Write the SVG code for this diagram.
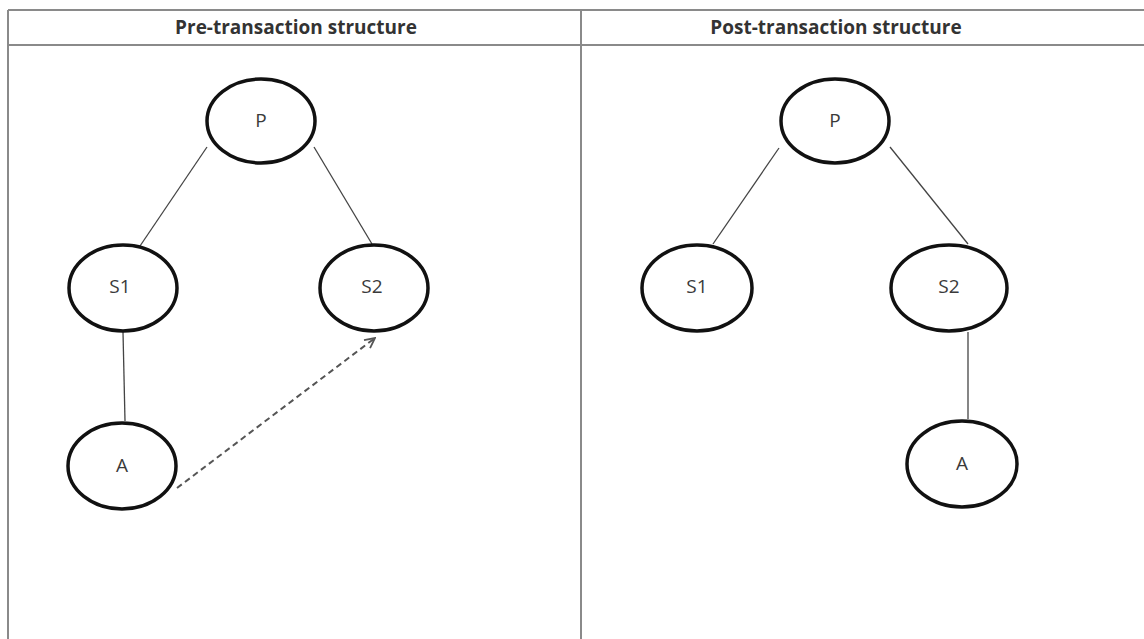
<svg xmlns="http://www.w3.org/2000/svg" width="1144" height="639" viewBox="0 0 1144 639">
<style>
.grid{stroke:#8a8a8a;stroke-width:2;fill:none}
.hdr{font-family:"Open Sans","Liberation Sans",sans-serif;font-weight:bold;font-size:19px;fill:#333;text-anchor:middle}
.node ellipse{fill:#fff;stroke:#111;stroke-width:3.5}
.lbl{font-family:"Open Sans","Liberation Sans",sans-serif;font-size:19px;fill:#3a3a3a;text-anchor:middle}
.edge{stroke:#444;stroke-width:1.3;fill:none}
.dash{stroke:#555;stroke-width:2;stroke-dasharray:6 4;fill:none}
</style>
<defs>
<marker id="open" viewBox="0 0 12 12" refX="11" refY="6" markerWidth="12" markerHeight="12" markerUnits="userSpaceOnUse" orient="auto">
<path d="M1,1 L11,6 L1,11" fill="none" stroke="#555" stroke-width="1.8"/>
</marker>
</defs>
<rect width="1144" height="639" fill="#fff"/>
<g id="table">
<line class="grid" x1="8" y1="10" x2="1144" y2="10"/>
<line class="grid" x1="8" y1="45" x2="1144" y2="45"/>
<line class="grid" x1="8" y1="10" x2="8" y2="639"/>
<line class="grid" x1="581" y1="10" x2="581" y2="639"/>
<text class="hdr" x="296" y="34">Pre-transaction structure</text>
<text class="hdr" x="836" y="34">Post-transaction structure</text>
</g>
<g id="connectors">
<line class="edge" x1="207" y1="147" x2="140" y2="246"/>
<line class="edge" x1="314" y1="147" x2="372" y2="244"/>
<line class="edge" x1="123" y1="332" x2="125" y2="421"/>
<path class="dash" d="M177,488 L375,338" marker-end="url(#open)"/>
<line class="edge" x1="779" y1="148" x2="713" y2="244"/>
<line class="edge" x1="890" y1="147" x2="968" y2="244"/>
<line class="edge" x1="968" y1="332" x2="968" y2="419"/>
</g>
<g id="L-P" class="node"><ellipse cx="261" cy="121" rx="54" ry="42"/><text class="lbl" x="261" y="127">P</text></g>
<g id="L-S1" class="node"><ellipse cx="123" cy="288" rx="54" ry="43"/><text class="lbl" x="120" y="293">S1</text></g>
<g id="L-S2" class="node"><ellipse cx="374" cy="288" rx="54" ry="43"/><text class="lbl" x="372" y="293">S2</text></g>
<g id="L-A" class="node"><ellipse cx="122" cy="466" rx="54" ry="43"/><text class="lbl" x="122" y="472">A</text></g>
<g id="R-P" class="node"><ellipse cx="835" cy="121" rx="54" ry="42"/><text class="lbl" x="835" y="127">P</text></g>
<g id="R-S1" class="node"><ellipse cx="697" cy="288" rx="55" ry="43"/><text class="lbl" x="697" y="293">S1</text></g>
<g id="R-S2" class="node"><ellipse cx="949" cy="288" rx="58" ry="43"/><text class="lbl" x="949" y="293">S2</text></g>
<g id="R-A" class="node"><ellipse cx="962" cy="464" rx="55" ry="43"/><text class="lbl" x="962" y="470">A</text></g>
</svg>
